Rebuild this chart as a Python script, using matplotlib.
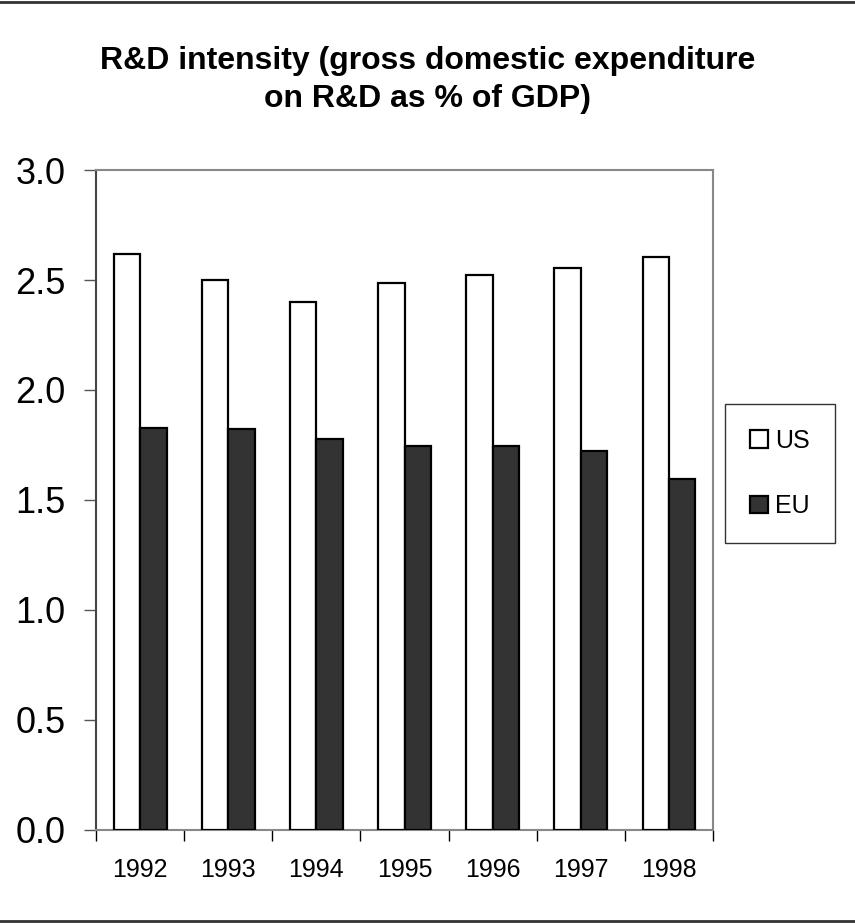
import matplotlib.pyplot as plt
from matplotlib.lines import Line2D
import numpy as np

plt.rcParams['font.family'] = ['Liberation Sans', 'DejaVu Sans']

years = ['1992', '1993', '1994', '1995', '1996', '1997', '1998']
us = [2.62, 2.50, 2.40, 2.485, 2.525, 2.555, 2.605]
eu = [1.825, 1.824, 1.776, 1.747, 1.744, 1.723, 1.597]

fig = plt.figure(figsize=(8.55, 9.23), dpi=100)
ax = fig.add_axes([0.1123, 0.1008, 0.834 - 0.1123, 0.8158 - 0.1008])

x = np.arange(len(years))
w = 0.3
ax.bar(x - w / 2, us, w, color='white', edgecolor='black', linewidth=1.6, label='US', zorder=3)
ax.bar(x + w / 2, eu, w, color='#333333', edgecolor='black', linewidth=1.6, label='EU', zorder=3)

ax.set_xlim(-0.5, len(years) - 0.5)
ax.set_ylim(0, 3.0)
ax.set_yticks(np.arange(0, 3.01, 0.5))
ax.set_yticklabels(['%.1f' % v for v in np.arange(0, 3.01, 0.5)], fontsize=26)

# category boundaries get the tick marks, labels sit in the middle
ax.set_xticks(np.arange(-0.5, len(years), 1.0))
ax.set_xticklabels([])
ax.set_xticks(x, minor=True)
ax.set_xticklabels(years, minor=True, fontsize=18)
ax.tick_params(axis='x', which='major', direction='out', length=8, width=1, color='black')
ax.tick_params(axis='x', which='minor', length=0, pad=20)
ax.tick_params(axis='y', direction='out', length=9, width=1, pad=13, color='#555555')

ax.spines['left'].set_color('#444444')
for s in ['top', 'right', 'bottom']:
    ax.spines[s].set_color('#888888')
for s in ax.spines.values():
    s.set_linewidth(1.5)

leg = ax.legend(loc='center left', bbox_to_anchor=(1.02, 0.54), fontsize=18,
                frameon=True, fancybox=False, edgecolor='black', handlelength=0.7,
                handleheight=0.7, handletextpad=0.3, labelspacing=1.65,
                borderpad=1.0, borderaxespad=0)
leg.get_frame().set_linewidth(1.0)

fig.text(0.5, 0.95, 'R&D intensity (gross domestic expenditure\non R&D as % of GDP)',
         ha='center', va='top', fontsize=23, fontweight='bold', linespacing=1.35)

fig.add_artist(Line2D([0, 1], [0.998, 0.998], color='#333333', linewidth=2))
fig.add_artist(Line2D([0, 1], [0.002, 0.002], color='#333333', linewidth=2))

fig.savefig('out.png', dpi=100)
